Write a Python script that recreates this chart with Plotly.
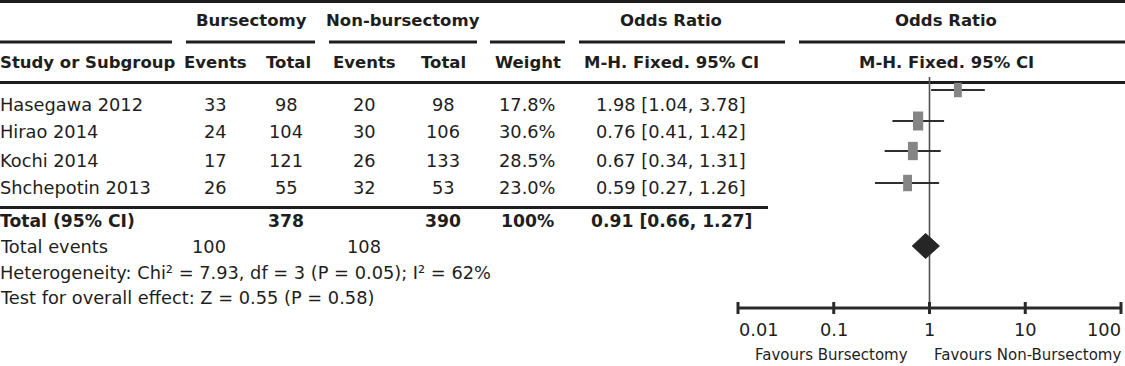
import math
import plotly.graph_objects as go

# ---------------- data ----------------
studies = ["Hasegawa 2012", "Hirao 2014", "Kochi 2014", "Shchepotin 2013"]
burs_events = [33, 24, 17, 26]
burs_total = [98, 104, 121, 55]
non_events = [20, 30, 26, 32]
non_total = [98, 106, 133, 53]
weights = [17.8, 30.6, 28.5, 23.0]
or_est = [1.98, 0.76, 0.67, 0.59]
ci_low = [1.04, 0.41, 0.34, 0.27]
ci_high = [3.78, 1.42, 1.31, 1.26]

total_label = "Total (95% CI)"
total_burs = 378
total_non = 390
total_weight = 100
total_or = 0.91
total_lo = 0.66
total_hi = 1.27
events_burs = 100
events_non = 108
heterogeneity = "Heterogeneity: Chi² = 7.93, df = 3 (P = 0.05); I² = 62%"
overall = "Test for overall effect: Z = 0.55 (P = 0.58)"

tick_vals = [0.01, 0.1, 1, 10, 100]
tick_text = ["0.01", "0.1", "1", "10", "100"]
favours_left = "Favours Bursectomy"
favours_right = "Favours Non-Bursectomy"

# ---------------- layout constants ----------------
W, H = 1125, 366
FONT = "DejaVu Sans"
FS = 17.8
FS_BOLD = 16.5
TXT = "#1e1e1e"
LINE = "#1e1e1e"
X_LEFT_PX, DEC_PX = 738.0, 95.75  # pixel of 0.01 and pixels per decade

row_text_y = [104, 132, 160, 187]
row_mark_y = [90, 121, 151, 183]
total_y = 221
events_y = 246
het_y = 272
test_y = 297
diamond_y = 246
axis_y = 308

col_be, col_bt, col_ne, col_nt, col_w, col_or, col_plot = 215, 286, 364, 443, 527, 671, 946

fig = go.Figure()

def px(x):
    return x / W

def py(y):
    return 1 - y / H

annotations = []

def text(s, x, y, anchor="center", bold=False, size=None, color=TXT, xshift=0):
    if size is None:
        size = FS_BOLD if bold else FS
    annotations.append(dict(
        text=f"<b>{s}</b>" if bold else s, x=px(x), y=py(y), xref="paper", yref="paper",
        xanchor=anchor, yanchor="middle", showarrow=False, xshift=xshift,
        font=dict(family=FONT, size=size, color=color)))

# header
text("Bursectomy", 251, 21, bold=True)
text("Non-bursectomy", 403, 21, bold=True)
text("Odds Ratio", col_or, 21, bold=True)
text("Odds Ratio", col_plot, 21, bold=True)
text("Study or Subgroup", 0, 63, anchor="left", bold=True, xshift=-2)
text("Events", col_be, 63, bold=True)
text("Total", col_bt + 2, 63, bold=True)
text("Events", col_ne, 63, bold=True)
text("Total", col_nt, 63, bold=True)
text("Weight", col_w + 1, 63, bold=True)
text("M-H. Fixed. 95% CI", col_or, 63, bold=True)
text("M-H. Fixed. 95% CI", col_plot, 63, bold=True)

for i, s in enumerate(studies):
    y = row_text_y[i]
    text(s, 0, y, anchor="left", xshift=-2)
    text(str(burs_events[i]), col_be, y)
    text(str(burs_total[i]), col_bt, y)
    text(str(non_events[i]), col_ne, y)
    text(str(non_total[i]), col_nt, y)
    text(f"{weights[i]:.1f}%", col_w, y)
    text(f"{or_est[i]:.2f} [{ci_low[i]:.2f}, {ci_high[i]:.2f}]", col_or, y)

text(total_label, 0, total_y, anchor="left", bold=True, xshift=-2, size=17.2)
text(str(total_burs), col_bt, total_y, bold=True, size=17.2)
text(str(total_non), col_nt, total_y, bold=True, size=17.2)
text(f"{total_weight}%", col_w, total_y, bold=True, size=17.2)
text(f"{total_or:.2f} [{total_lo:.2f}, {total_hi:.2f}]", col_or, total_y, bold=True, size=17.2)
text("Total events", 0, events_y, anchor="left", xshift=-2)
text(str(events_burs), col_be - 6, events_y)
text(str(events_non), col_ne, events_y)
text(heterogeneity, 0, het_y, anchor="left", xshift=-2)
text(overall, 0, test_y, anchor="left", xshift=-2)

# axis tick labels (data-driven, log axis annotations use log10)
for i, (v, t) in enumerate(zip(tick_vals, tick_text)):
    anchor = "left" if i == 0 else ("right" if i == len(tick_vals) - 1 else "center")
    annotations.append(dict(
        text=t, x=math.log10(v), y=py(329), xref="x", yref="paper",
        xanchor=anchor, yanchor="middle", showarrow=False,
        xshift=(2 if anchor == "right" else (-1 if anchor == "left" else 0)),
        font=dict(family=FONT, size=FS, color=TXT)))
text(favours_left, 831, 355, size=15)
text(favours_right, 1027, 355, size=15)

# table rules
shapes = []

def hline(x0, x1, y, w=3):
    shapes.append(dict(type="line", xref="paper", yref="paper", x0=px(x0), x1=px(x1),
                       y0=py(y), y1=py(y), line=dict(color=LINE, width=w), layer="below"))

hline(0, W, 1.5)
for a, b in [(0, 172), (186, 315), (329, 477), (490, 565), (579, 785), (799, W)]:
    hline(a, b, 42)
hline(0, W, 82.5)
hline(0, 768, 207.5)

# ---------------- forest plot traces ----------------
# null line
fig.add_trace(go.Scatter(x=[1, 1], y=[77, axis_y], mode="lines",
                         line=dict(color="#505050", width=1.6), hoverinfo="skip"))
# CI lines
cx, cy = [], []
for lo, hi, y in zip(ci_low, ci_high, row_mark_y):
    cx += [lo, hi, None]
    cy += [y, y, None]
fig.add_trace(go.Scatter(x=cx, y=cy, mode="lines", line=dict(color="#2e2e2e", width=2),
                         hoverinfo="skip"))
# weight boxes
heights = [2.45 * math.sqrt(w) for w in weights]
widths = [1.85 * math.sqrt(w) for w in weights]
fig.add_trace(go.Scatter(x=or_est, y=row_mark_y, mode="markers",
                         marker=dict(symbol="line-ns", size=heights, color="#858585",
                                     opacity=1,
                                     line=dict(color="#858585", width=widths)),
                         opacity=1, hoverinfo="skip"))
# diamond
dh = 12.5
fig.add_trace(go.Scatter(x=[total_lo, total_or, total_hi, total_or, total_lo],
                         y=[diamond_y, diamond_y - dh, diamond_y, diamond_y + dh, diamond_y],
                         mode="lines", fill="toself", fillcolor="#262626",
                         line=dict(color="#262626", width=1), hoverinfo="skip"))
# axis line and ticks
fig.add_trace(go.Scatter(x=[tick_vals[0], tick_vals[-1]], y=[axis_y, axis_y], mode="lines",
                         line=dict(color="#2a2a2a", width=3), hoverinfo="skip"))
tx, ty = [], []
for v in tick_vals:
    tx += [v, v, None]
    ty += [axis_y - 6, axis_y + 6, None]
fig.add_trace(go.Scatter(x=tx, y=ty, mode="lines", line=dict(color="#2a2a2a", width=3),
                         hoverinfo="skip"))

left_log = -2 - X_LEFT_PX / DEC_PX
right_log = -2 + (W - X_LEFT_PX) / DEC_PX
fig.update_layout(
    width=W, height=H, margin=dict(l=0, r=0, t=0, b=0),
    paper_bgcolor="white", plot_bgcolor="white", showlegend=False,
    xaxis=dict(type="log", range=[left_log, right_log], domain=[0, 1], visible=False,
               fixedrange=True),
    yaxis=dict(range=[H, 0], domain=[0, 1], visible=False, fixedrange=True),
    shapes=shapes, annotations=annotations,
)

fig.write_html("out.html", config={"displayModeBar": False},
               post_script="document.body.style.margin='0';document.body.style.overflow='hidden';")
